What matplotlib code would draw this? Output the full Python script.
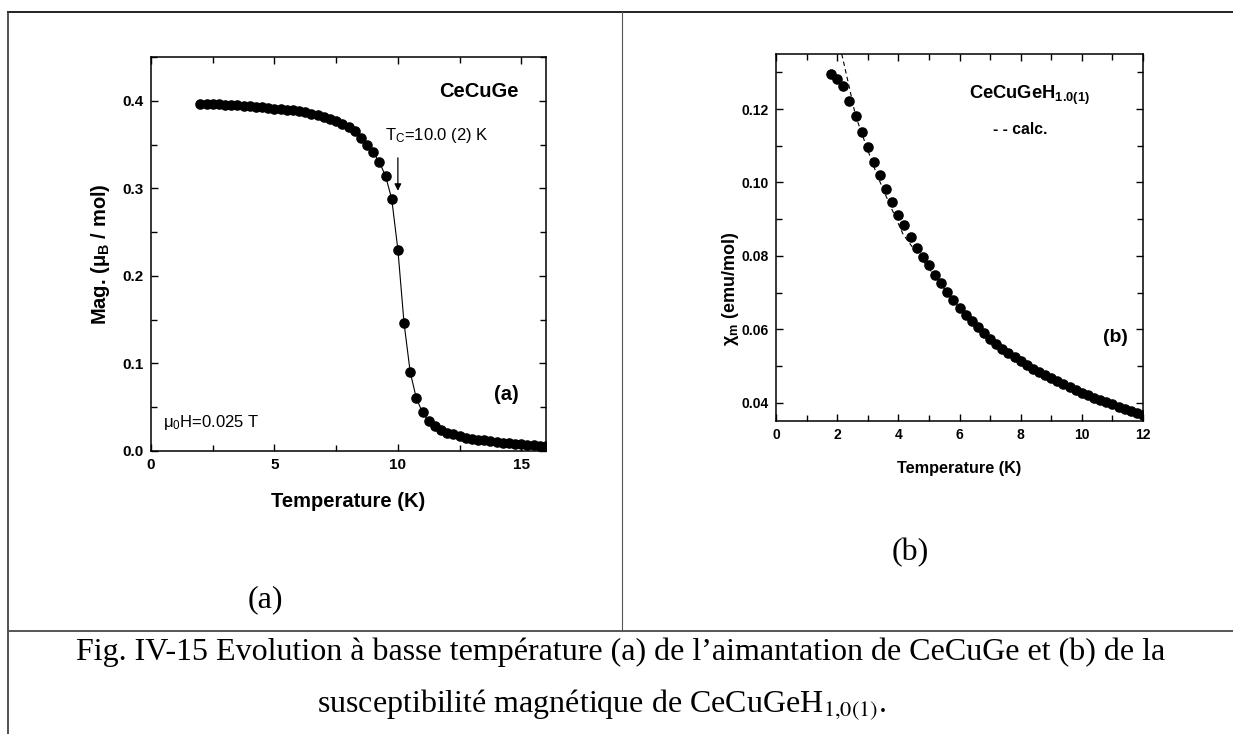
import matplotlib
matplotlib.use("Agg")
import matplotlib.pyplot as plt
from matplotlib.lines import Line2D
from matplotlib.ticker import MultipleLocator, FormatStrFormatter


W = 1233
H = 734

plt.rcParams['font.family'] = ['Liberation Sans', 'DejaVu Sans']
plt.rcParams['mathtext.fontset'] = 'custom'
plt.rcParams['mathtext.rm'] = 'Liberation Sans'
plt.rcParams['mathtext.bf'] = 'Liberation Sans:bold'
plt.rcParams['mathtext.it'] = 'Liberation Sans:italic'


# (a) magnetisation of CeCuGe, mu_B / mol
tempA = [2.00, 2.25, 2.50, 2.75, 3.00, 3.25, 3.50, 3.75, 4.00, 4.25,
         4.50, 4.75, 5.00, 5.25, 5.50, 5.75, 6.00, 6.25, 6.50, 6.75,
         7.00, 7.25, 7.50, 7.75, 8.00, 8.25, 8.50, 8.75, 9.00, 9.25,
         9.50, 9.75, 10.00, 10.25, 10.50, 10.75, 11.00, 11.25, 11.50, 11.75,
         12.00, 12.25, 12.50, 12.75, 13.00, 13.25, 13.50, 13.75, 14.00, 14.25,
         14.50, 14.75, 15.00, 15.25, 15.50, 15.75, 16.00]
magA = [0.396, 0.396, 0.396, 0.396, 0.395, 0.395, 0.395, 0.394, 0.394, 0.393,
        0.393, 0.392, 0.391, 0.391, 0.390, 0.389, 0.388, 0.387, 0.385, 0.384,
        0.382, 0.379, 0.377, 0.374, 0.370, 0.365, 0.357, 0.350, 0.341, 0.330,
        0.314, 0.288, 0.230, 0.146, 0.090, 0.060, 0.044, 0.034, 0.028, 0.024,
        0.021, 0.019, 0.017, 0.015, 0.014, 0.013, 0.012, 0.011, 0.010, 0.009,
        0.009, 0.008, 0.008, 0.007, 0.007, 0.006, 0.006]

# (b) susceptibility of CeCuGeH1.0(1), emu/mol
tempB = [1.8, 2.0, 2.2, 2.4, 2.6, 2.8, 3.0, 3.2, 3.4, 3.6,
         3.8, 4.0, 4.2, 4.4, 4.6, 4.8, 5.0, 5.2, 5.4, 5.6,
         5.8, 6.0, 6.2, 6.4, 6.6, 6.8, 7.0, 7.2, 7.4, 7.6,
         7.8, 8.0, 8.2, 8.4, 8.6, 8.8, 9.0, 9.2, 9.4, 9.6,
         9.8, 10.0, 10.2, 10.4, 10.6, 10.8, 11.0, 11.2, 11.4, 11.6,
         11.8, 12.0]
chiB = [0.1295, 0.1283, 0.1262, 0.1223, 0.1182, 0.1138, 0.1096, 0.1056, 0.1019, 0.0982,
        0.0948, 0.0912, 0.0883, 0.0851, 0.0822, 0.0797, 0.0774, 0.0749, 0.0725, 0.0702,
        0.0680, 0.0659, 0.0640, 0.0622, 0.0605, 0.0589, 0.0574, 0.0560, 0.0547, 0.0535,
        0.0524, 0.0513, 0.0503, 0.0493, 0.0484, 0.0475, 0.0467, 0.0458, 0.0450, 0.0442,
        0.0434, 0.0427, 0.0420, 0.0413, 0.0407, 0.0401, 0.0395, 0.0389, 0.0383, 0.0377,
        0.0371, 0.0366]

# calculated curve (dashed)
tempCalc = [2.15, 2.4, 2.6, 3.0, 3.3, 3.67, 4.16, 4.6, 5.0, 6.0, 7.0, 8.0, 9.0, 10.0, 11.0, 12.0]
chiCalc = [0.1350, 0.1258, 0.1182, 0.1088, 0.1021, 0.0949, 0.0858, 0.0808, 0.0766,
           0.0655, 0.0572, 0.0511, 0.0466, 0.0426, 0.0394, 0.0365]

CAPTION1 = "Fig. IV-15 Evolution à basse température (a) de l’aimantation de CeCuGe et (b) de la"
CAPTION2 = r"susceptibilité magnétique de CeCuGeH$_{1{,}0(1)}$."


def frac(x, y):
    """ pixel -> figure fraction """
    return x / W, 1 - y / H


def rect(x0, y0, x1, y1):
    a, b = frac(x0, y1)
    c, d = frac(x1, y0)
    return [a, b, c - a, d - b]


def hline(x0, x1, y, lw, color):
    p0 = frac(x0, y)
    p1 = frac(x1, y)
    fig.add_artist(Line2D([p0[0], p1[0]], [p0[1], p1[1]], lw=lw, color=color))


def vline(x, y0, y1, lw, color):
    p0 = frac(x, y0)
    p1 = frac(x, y1)
    fig.add_artist(Line2D([p0[0], p1[0]], [p0[1], p1[1]], lw=lw, color=color))


def style(ax, size):
    ax.tick_params(which="both", direction="in", top=True, right=True, width=1.0)
    ax.tick_params(which="major", length=5, labelsize=size, pad=5)
    ax.tick_params(which="minor", length=4)
    for lbl in ax.get_xticklabels() + ax.get_yticklabels():
        lbl.set_fontweight("bold")
    for s in ax.spines.values():
        s.set_linewidth(1.1)


fig = plt.figure(figsize=(W / 100, H / 100), dpi=100)

# table borders of the page
hline(8, W, 12, 1.4, "#222222")
vline(8, 12, H, 1.2, "#333333")
vline(622, 12, 631, 0.8, "#555555")
hline(8, W, 631, 1.4, "#555555")

# ---- panel (a)
ax1 = fig.add_axes(rect(151, 57, 546, 451))
ax1.plot(tempA, magA, "-", color="k", lw=0.8)
ax1.plot(tempA, magA, "o", color="k", ms=6.6, ls="none")
ax1.set_xlim(0, 16)
ax1.set_ylim(0, 0.45)
ax1.xaxis.set_major_locator(MultipleLocator(5))
ax1.xaxis.set_minor_locator(MultipleLocator(2.5))
ax1.yaxis.set_major_locator(MultipleLocator(0.1))
ax1.yaxis.set_minor_locator(MultipleLocator(0.05))
ax1.yaxis.set_major_formatter(FormatStrFormatter("%.1f"))
style(ax1, 11)
ax1.set_xlabel("Temperature (K)", fontsize=14.5, fontweight="bold")
ax1.set_ylabel(r"Mag. (μ$_\mathbf{B}$ / mol)", fontsize=14.5, fontweight="bold")
ax1.xaxis.set_label_coords(0.5, -0.105)
ax1.yaxis.set_label_coords(-0.10, 0.5)

ax1.text(14.9, 0.4046, "CeCuGe", fontsize=14.5, fontweight="bold", ha="right", va="baseline")
ax1.text(9.48, 0.355, r"T$_\mathrm{C}$=10.0 (2) K", fontsize=12, ha="left", va="baseline")
ax1.annotate("", xy=(10.0, 0.294), xytext=(10.0, 0.338),
             arrowprops=dict(arrowstyle="-|>", color="k", lw=0.9, mutation_scale=10))
ax1.text(14.9, 0.0583, "(a)", fontsize=14.5, fontweight="bold", ha="right", va="baseline")
ax1.text(0.49, 0.0271, r"μ$_\mathrm{0}$H=0.025 T", fontsize=12, ha="left", va="baseline")

# ---- panel (b)
ax2 = fig.add_axes(rect(776, 54, 1143, 421))
ax2.plot(tempCalc, chiCalc, "--", color="k", lw=0.8, dashes=(4, 3))
ax2.plot(tempB, chiB, "o", color="k", ms=6.6, ls="none")
ax2.set_xlim(0, 12)
ax2.set_ylim(0.035, 0.135)
ax2.xaxis.set_major_locator(MultipleLocator(2))
ax2.xaxis.set_minor_locator(MultipleLocator(1))
ax2.yaxis.set_major_locator(MultipleLocator(0.02))
ax2.yaxis.set_minor_locator(MultipleLocator(0.01))
ax2.yaxis.set_major_formatter(FormatStrFormatter("%.2f"))
style(ax2, 10)
ax2.set_xlabel("Temperature (K)", fontsize=11.7, fontweight="bold")
ax2.set_ylabel(r"χ$_\mathbf{m}$ (emu/mol)", fontsize=13, fontweight="bold")
ax2.xaxis.set_label_coords(0.5, -0.11)
ax2.yaxis.set_label_coords(-0.095, 0.36)

ax2.text(6.31, 0.1227, r"CeCuGeH$_\mathbf{1.0(1)}$", fontsize=13.2, fontweight="bold",
         ha="left", va="baseline")
ax2.text(7.10, 0.1132, "- - calc.", fontsize=11.3, fontweight="bold", ha="left", va="baseline")
ax2.text(11.51, 0.0566, "(b)", fontsize=14, fontweight="bold", ha="right", va="baseline")

# ---- sub captions and figure caption
serif = ["Liberation Serif", "DejaVu Serif"]
x, y = frac(265, 600)
fig.text(x, y, "(a)", family=serif, fontsize=23, ha="center", va="center")
x, y = frac(910, 553)
fig.text(x, y, "(b)", family=serif, fontsize=23, ha="center", va="center")

x, y = frac(621, 660)
fig.text(x, y, CAPTION1, family=serif, fontsize=23, ha="center", va="baseline")
x, y = frac(602, 712)
fig.text(x, y, CAPTION2, family=serif, fontsize=23,
         ha="center", va="baseline", math_fontfamily="stix")

fig.savefig("out.png", dpi=100)
